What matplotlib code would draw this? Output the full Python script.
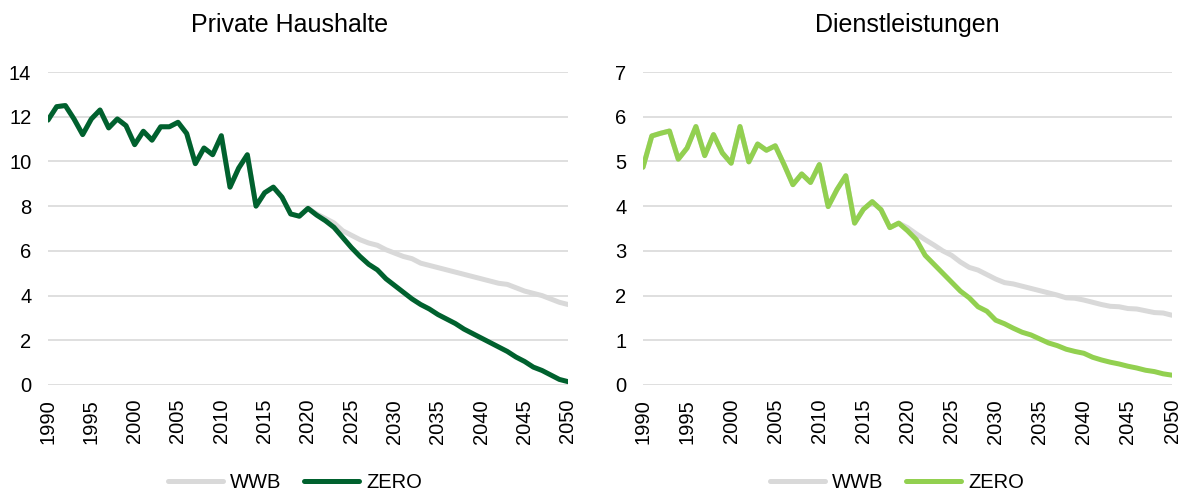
import matplotlib
matplotlib.use('Agg')
import matplotlib.pyplot as plt
import numpy as np

plt.rcParams['font.family'] = ['Liberation Sans', 'DejaVu Sans']

# ─── Data ───────────────────────────────────────────────────────────────
years = np.arange(1990, 2051)

# Private Haushalte: history 1990-2020, then the two scenarios
ph_hist = [11.85, 12.45, 12.5, 11.9, 11.2, 11.9, 12.3, 11.5, 11.9, 11.6,
           10.75, 11.35, 10.95, 11.55, 11.55, 11.75, 11.25, 9.9, 10.6, 10.3,
           11.15, 8.85, 9.7, 10.3, 8.0, 8.6, 8.85, 8.4, 7.65, 7.55, 7.9]
ph_wwb = [7.65, 7.45, 7.25, 6.9, 6.7, 6.5, 6.35, 6.25, 6.05, 5.9,
          5.75, 5.65, 5.45, 5.35, 5.25, 5.15, 5.05, 4.95, 4.85, 4.75,
          4.65, 4.55, 4.5, 4.35, 4.2, 4.1, 4.0, 3.85, 3.7, 3.6]
ph_zero = [7.6, 7.35, 7.05, 6.6, 6.15, 5.75, 5.4, 5.15, 4.75, 4.45,
           4.15, 3.85, 3.6, 3.4, 3.15, 2.95, 2.75, 2.5, 2.3, 2.1,
           1.9, 1.7, 1.5, 1.25, 1.05, 0.8, 0.65, 0.45, 0.25, 0.15]

# Dienstleistungen: history 1990-2019, then the two scenarios from 2020
dl_hist = [4.87, 5.57, 5.63, 5.68, 5.05, 5.3, 5.78, 5.13, 5.6, 5.19,
           4.96, 5.78, 4.99, 5.39, 5.25, 5.35, 4.93, 4.48, 4.72, 4.53,
           4.93, 3.99, 4.37, 4.68, 3.62, 3.93, 4.1, 3.92, 3.52, 3.62]
dl_wwb = [3.52, 3.38, 3.25, 3.13, 3.0, 2.9, 2.75, 2.63, 2.57, 2.47,
          2.37, 2.29, 2.26, 2.21, 2.16, 2.11, 2.06, 2.01, 1.95, 1.94,
          1.9, 1.85, 1.8, 1.76, 1.75, 1.71, 1.7, 1.66, 1.62, 1.61, 1.56]
dl_zero = [3.45, 3.25, 2.9, 2.7, 2.5, 2.3, 2.1, 1.95, 1.75, 1.65,
           1.45, 1.37, 1.27, 1.18, 1.12, 1.03, 0.94, 0.88, 0.8, 0.75,
           0.71, 0.62, 0.56, 0.51, 0.47, 0.42, 0.38, 0.33, 0.3, 0.25, 0.22]

# ─── Styling ────────────────────────────────────────────────────────────
grey = '#D9D9D9'
dark_green = '#00612E'
light_green = '#92D050'
fs = 14.5

fig = plt.figure(figsize=(11.82, 4.93), dpi=100)
ax1 = fig.add_axes([48 / 1182, 1 - 385 / 493, 520 / 1182, 313 / 493])
ax2 = fig.add_axes([643 / 1182, 1 - 385 / 493, 529 / 1182, 313 / 493])


def panel(ax, hist, wwb, zero, color, ymax, title, title_x, leg_x):
    wwb_full = hist + wwb if len(hist) + len(wwb) == len(years) else hist[:-1] + wwb
    zero_full = hist + zero if len(hist) + len(zero) == len(years) else hist[:-1] + zero
    ax.plot(years, wwb_full, color=grey, lw=3.6, solid_capstyle='round',
            solid_joinstyle='round', label='WWB', zorder=3)
    ax.plot(years, zero_full, color=color, lw=3.6, solid_capstyle='round',
            solid_joinstyle='round', label='ZERO', zorder=4)
    ax.set_xlim(1990, 2050)
    ax.set_ylim(0, ymax)
    ax.set_yticks(range(0, ymax + 1, 2 if ymax > 8 else 1))
    ax.set_xticks(range(1990, 2051, 5))
    ax.tick_params(axis='x', rotation=90, length=0, pad=10, labelsize=fs)
    ax.tick_params(axis='y', length=0, pad=12, labelsize=fs)
    ax.grid(axis='y', color=grey, lw=1.2, zorder=0)
    ax.set_axisbelow(True)
    for s in ax.spines.values():
        s.set_visible(False)
    ax.margins(x=0)
    fig.text(title_x / 1182, 1 - 25 / 493, title, ha='center', va='center',
             fontsize=18)
    ax.legend(loc='center', bbox_to_anchor=(leg_x / 1182, 1 - 483 / 493),
              bbox_transform=fig.transFigure, ncol=2, frameon=False,
              fontsize=fs, handlelength=2.75, handletextpad=0.35,
              columnspacing=1.1, borderaxespad=0)


panel(ax1, ph_hist, ph_wwb, ph_zero, dark_green, 14, 'Private Haushalte', 290, 295)
panel(ax2, dl_hist, dl_wwb, dl_zero, light_green, 7, 'Dienstleistungen', 907, 897)

fig.savefig('out.png', dpi=100, facecolor='white')
